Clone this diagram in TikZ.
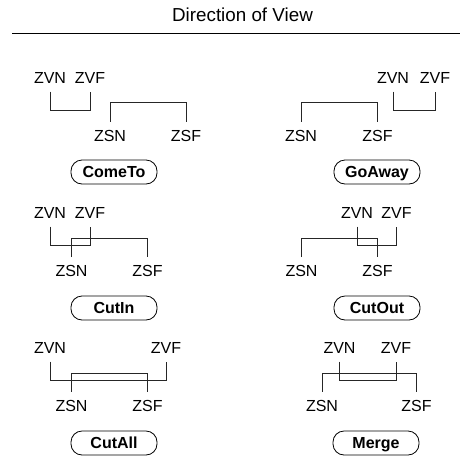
\documentclass[tikz,border=0pt]{standalone}
\usepackage{fontspec}
\setmainfont{Liberation Sans}
\begin{document}
\begin{tikzpicture}[x=1pt,y=-1pt,
  lab/.style={font=\fontsize{16}{19}\selectfont, inner sep=0pt, text height=11.3pt,
    text depth=0pt, outer ysep=8pt, anchor=base},
  mode/.style={draw, line width=0.8pt, rounded corners=11pt, minimum width=86pt,
    minimum height=24pt, inner sep=0pt, text height=11.5pt, text depth=0pt,
    font=\bfseries\fontsize{16}{19}\selectfont},
  wire/.style={line width=0.8pt, black!85},
]
\useasboundingbox (0,0) rectangle (460,458);

% header
\node[font=\fontsize{18.8}{22}\selectfont, inner sep=0pt, anchor=base] (title) at (242.5,21) {Direction of View};
\coordinate (hl) at (12,33);
\coordinate (hr) at (460,33);
\draw[line width=0.9pt] (hl) -- (hr);

% ComeTo
\node[lab] (vn1) at (50,83.5) {ZVN};
\node[lab] (vf1) at (90,83.5) {ZVF};
\node[lab] (sn1) at (110,141) {ZSN};
\node[lab] (sf1) at (186,141) {ZSF};
\draw[wire] (vn1.south) |- (vf1.south |- 0,110) -- (vf1.south);
\draw[wire] (sn1.north) |- (sf1.north |- 0,102) -- (sf1.north);
\node[mode] (m1) at (114,172) {ComeTo};

% GoAway
\node[lab] (vn2) at (393,83.5) {ZVN};
\node[lab] (vf2) at (435,83.5) {ZVF};
\node[lab] (sn2) at (301,141) {ZSN};
\node[lab] (sf2) at (377.5,141) {ZSF};
\draw[wire] (vn2.south) |- (vf2.south |- 0,110) -- (vf2.south);
\draw[wire] (sn2.north) |- (sf2.north |- 0,102) -- (sf2.north);
\node[mode] (m2) at (377,172) {GoAway};

% CutIn
\node[lab] (vn3) at (50,218.5) {ZVN};
\node[lab] (vf3) at (90,218.5) {ZVF};
\node[lab] (sn3) at (71.5,276.5) {ZSN};
\node[lab] (sf3) at (147.5,276.5) {ZSF};
\draw[wire] (vn3.south) |- (vf3.south |- 0,245) -- (vf3.south);
\draw[wire] (sn3.north) |- (sf3.north |- 0,238) -- (sf3.north);
\node[mode] (m3) at (114,308) {CutIn};

% CutOut
\node[lab] (vn4) at (357,218.5) {ZVN};
\node[lab] (vf4) at (396.5,218.5) {ZVF};
\node[lab] (sn4) at (301.5,276.5) {ZSN};
\node[lab] (sf4) at (377.5,276.5) {ZSF};
\draw[wire] (vn4.south) |- (vf4.south |- 0,245) -- (vf4.south);
\draw[wire] (sn4.north) |- (sf4.north |- 0,238) -- (sf4.north);
\node[mode] (m4) at (377,308) {CutOut};

% CutAll
\node[lab] (vn5) at (50,353.5) {ZVN};
\node[lab] (vf5) at (166,353.5) {ZVF};
\node[lab] (sn5) at (71.5,411) {ZSN};
\node[lab] (sf5) at (147.5,411) {ZSF};
\draw[wire] (vn5.south) |- (vf5.south |- 0,380) -- (vf5.south);
\draw[wire] (sn5.north) |- (sf5.north |- 0,373) -- (sf5.north);
\node[mode] (m5) at (114,443) {CutAll};

% Merge
\node[lab] (vn6) at (339.5,353.5) {ZVN};
\node[lab] (vf6) at (396,353.5) {ZVF};
\node[lab] (sn6) at (322,411) {ZSN};
\node[lab] (sf6) at (416.5,411) {ZSF};
\draw[wire] (vn6.south) |- (vf6.south |- 0,380) -- (vf6.south);
\draw[wire] (sn6.north) |- (sf6.north |- 0,373) -- (sf6.north);
\node[mode] (m6) at (376,443) {Merge};
\end{tikzpicture}
\end{document}
